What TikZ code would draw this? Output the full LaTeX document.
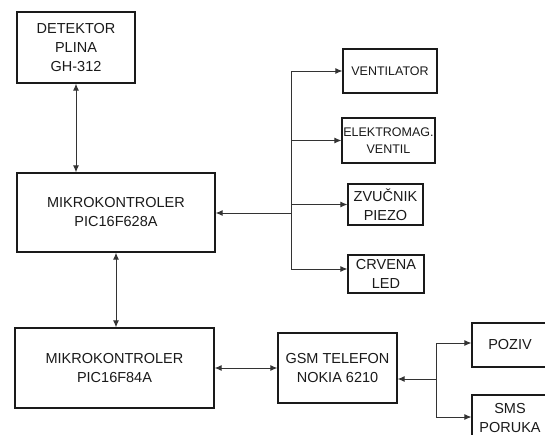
\documentclass[tikz,border=0pt]{standalone}
\usepackage{fontspec}
\setmainfont{Liberation Sans}
\usetikzlibrary{arrows.meta,positioning,calc}
\definecolor{ink}{HTML}{1A1A1A}
\definecolor{wire}{HTML}{333333}
\tikzset{
  blokbox/.style={rectangle,draw=ink,line width=1.3pt,fill=white,text=ink,
    align=center,font=\fontsize{14.5}{19}\selectfont,inner sep=0pt},
  izlazbox/.style={blokbox,line width=1.1pt},
  vezarr/.style={-{Latex[length=7pt,width=6pt]},line width=1pt,color=wire},
  dvoarr/.style={{Latex[length=7pt,width=6pt]}-{Latex[length=7pt,width=6pt]},line width=1pt,color=wire},
  sabirnica/.style={line width=1pt,color=wire},
}

\begin{document}
\begin{tikzpicture}[x=1pt,y=-1pt]
  \useasboundingbox (0,0) rectangle (545,434);
  \clip (0,0) rectangle (545,434);

  % lijeva strana
  \node[blokbox,minimum width=118pt,minimum height=71pt] (det) at (76,47.5) {DETEKTOR\\PLINA\\GH-312};
  \node[blokbox,minimum width=198pt,minimum height=79pt] (mk1) at (116,212.5) {MIKROKONTROLER\\PIC16F628A};
  \node[blokbox,minimum width=199pt,minimum height=80pt] (mk2) at (114.5,368) {MIKROKONTROLER\\PIC16F84A};
  \node[blokbox,minimum width=119pt,minimum height=70pt] (gsm) at (337.5,368) {GSM TELEFON\\NOKIA 6210};

  % izvrsni elementi
  \node[izlazbox,minimum width=94pt,minimum height=44pt,font=\fontsize{12.5}{17}\selectfont] (ven) at (390,71) {VENTILATOR};
  \node[izlazbox,minimum width=93pt,minimum height=45pt,font=\fontsize{12.5}{17}\selectfont] (elm) at (388.5,140.5) {ELEKTROMAG.\\VENTIL};
  \node[izlazbox,minimum width=75pt,minimum height=41pt] (zvu) at (385.5,204.5) {ZVU\v{C}NIK\\PIEZO};
  \node[izlazbox,minimum width=76pt,minimum height=38pt] (crv) at (386,274) {CRVENA\\LED};
  \node[izlazbox,minimum width=76pt,minimum height=44pt] (poz) at (510,345) {POZIV};
  \node[izlazbox,minimum width=76pt,minimum height=45pt] (sms) at (510,417.5) {SMS\\PORUKA};

  \coordinate (bus) at (291,213);
  \coordinate (gran) at (436,379);

  \draw[dvoarr] (det.south) -- (det.south |- mk1.north);
  \draw[dvoarr] (mk1.south) -- (mk1.south |- mk2.north);
  \draw[dvoarr] (mk2.east) -- (gsm.west);

  \draw[vezarr] (bus) -- (bus -| mk1.east);
  \draw[sabirnica] (bus |- ven.west) -- (291,269);
  \draw[vezarr] (bus |- ven.west) -- (ven.west);
  \draw[vezarr] (bus |- elm.west) -- (elm.west);
  \draw[vezarr] (bus |- zvu.west) -- (zvu.west);
  \draw[vezarr] (291,269) -- (291,269 -| crv.west);

  \draw[vezarr] (gran) -- (gran -| gsm.east);
  \draw[sabirnica] (436,343) -- (436,417);
  \draw[vezarr] (436,343) -- (436,343 -| poz.west);
  \draw[vezarr] (436,417) -- (436,417 -| sms.west);
\end{tikzpicture}
\end{document}
